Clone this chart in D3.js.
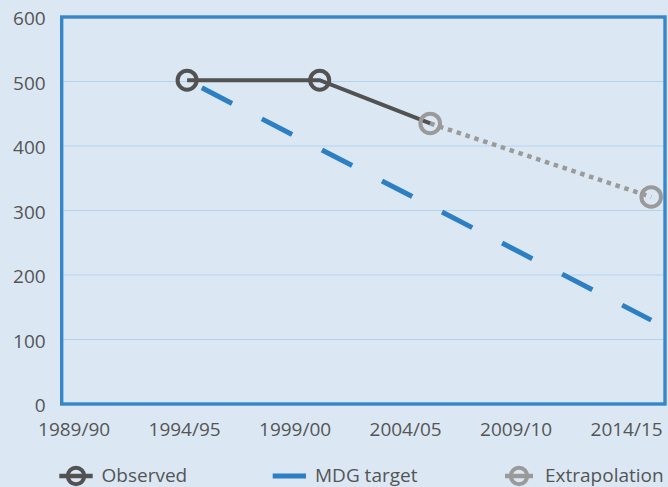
<!DOCTYPE html>
<html>
<head>
<meta charset="utf-8">
<script src="https://cdn.jsdelivr.net/npm/d3@7"></script>
<style>
  html, body { margin: 0; padding: 0; background: #dbe8f4; }
  svg { display: block; }
  text { font-family: "Open Sans", "Noto Sans", sans-serif; fill: #555; }
</style>
</head>
<body>
<svg id="chart" width="668" height="487"></svg>
<script>
// ---- data ----
const tickYears = [1990, 1995, 2000, 2005, 2010, 2015];
const tickLabels = ["1989/90", "1994/95", "1999/00", "2004/05", "2009/10", "2014/15"];
const yTicks = [0, 100, 200, 300, 400, 500, 600];

const observedYears = [1995, 2001, 2006];
const observedValues = [502, 502, 435];

const extrapYears = [2006, 2016];
const extrapValues = [435, 321];

const mdgYears = [1995, 2016];
const mdgValues = [502, 130];

const legendLabels = ["Observed", "MDG target", "Extrapolation"];

// ---- layout ----
const W = 668, H = 487;
const plotL = 61.7, plotR = 665, plotT = 17, plotB = 404;

const svg = d3.select("#chart");
svg.append("rect").attr("width", W).attr("height", H).attr("fill", "#dbe8f4");

const x = d3.scaleLinear().domain([1990, 2016]).range([76.6, 651.2]);
const y = d3.scaleLinear().domain([0, 600]).range([plotB, plotT]);

// grid
svg.append("g").selectAll("line")
  .data(yTicks.filter(v => v > 0 && v < 600))
  .join("line")
  .attr("x1", plotL + 1.5).attr("x2", plotR - 1.5)
  .attr("y1", d => y(d)).attr("y2", d => y(d))
  .attr("stroke", "#b3d2ee").attr("stroke-width", 1.2);

// y axis labels
const yAxis = d3.axisLeft(y).tickValues(yTicks).tickSize(0).tickPadding(16);
const gy = svg.append("g").attr("transform", `translate(${plotL},0)`).call(yAxis);
gy.select(".domain").remove();
gy.selectAll("text")
  .attr("font-size", "19px")
  .attr("font-family", "'Open Sans', sans-serif")
  .attr("fill", "#555")
  .attr("dy", "0.42em");

// x axis labels
const xAxis = d3.axisBottom(x).tickValues(tickYears)
  .tickFormat((d, i) => tickLabels[i]).tickSize(0).tickPadding(19);
const gx = svg.append("g").attr("transform", `translate(0,${plotB})`).call(xAxis);
gx.select(".domain").remove();
gx.selectAll("text")
  .attr("font-size", "19px")
  .attr("font-family", "'Open Sans', sans-serif")
  .attr("fill", "#555")
  .attr("dx", "-3");

// frame
svg.append("rect")
  .attr("x", plotL).attr("y", plotT)
  .attr("width", plotR - plotL).attr("height", plotB - plotT)
  .attr("fill", "none").attr("stroke", "#3787c8").attr("stroke-width", 3.4);

const line = d3.line().x(d => x(d[0])).y(d => y(d[1]));

// MDG target dashed
const mdgPts = mdgYears.map((d, i) => [d, mdgValues[i]]);
svg.append("path")
  .attr("d", line(mdgPts))
  .attr("fill", "none").attr("stroke", "#2b7fc2").attr("stroke-width", 5)
  .attr("stroke-dasharray", "34,33.6").attr("stroke-dashoffset", 51);

// extrapolation dotted
const exPts = extrapYears.map((d, i) => [d, extrapValues[i]]);
svg.append("path")
  .attr("d", line(exPts))
  .attr("fill", "none").attr("stroke", "#9a9a9a").attr("stroke-width", 4.5)
  .attr("stroke-dasharray", "4.5,4.8");

// observed solid
const obPts = observedYears.map((d, i) => [d, observedValues[i]]);
svg.append("path")
  .attr("d", line(obPts))
  .attr("fill", "none").attr("stroke", "#525252").attr("stroke-width", 4);

// markers
svg.append("g").selectAll("circle")
  .data(obPts.slice(0, 2))
  .join("circle")
  .attr("cx", d => x(d[0])).attr("cy", d => y(d[1])).attr("r", 9.5)
  .attr("fill", "none").attr("stroke", "#525252").attr("stroke-width", 4);

svg.append("g").selectAll("circle")
  .data(exPts)
  .join("circle")
  .attr("cx", d => x(d[0])).attr("cy", d => y(d[1])).attr("r", 9.8)
  .attr("fill", "none").attr("stroke", "#9a9a9a").attr("stroke-width", 4);

// legend
const ly = 476;
const ty = 481.5;
const lg = svg.append("g");
// Observed
lg.append("line").attr("x1", 59.3).attr("x2", 92.7).attr("y1", ly).attr("y2", ly)
  .attr("stroke", "#525252").attr("stroke-width", 4.5);
lg.append("circle").attr("cx", 76).attr("cy", ly).attr("r", 8.2)
  .attr("fill", "none").attr("stroke", "#525252").attr("stroke-width", 4);
lg.append("text").attr("x", 101.5).attr("y", ty).attr("font-size", "19px").text(legendLabels[0]);
// MDG
lg.append("line").attr("x1", 272.7).attr("x2", 306).attr("y1", ly).attr("y2", ly)
  .attr("stroke", "#2b7fc2").attr("stroke-width", 5);
lg.append("text").attr("x", 315).attr("y", ty).attr("font-size", "19px").text(legendLabels[1]);
// Extrapolation
lg.append("line").attr("x1", 505).attr("x2", 533).attr("y1", ly).attr("y2", ly)
  .attr("stroke", "#9a9a9a").attr("stroke-width", 4.5);
lg.append("circle").attr("cx", 519).attr("cy", ly).attr("r", 8.2)
  .attr("fill", "none").attr("stroke", "#9a9a9a").attr("stroke-width", 4);
lg.append("text").attr("x", 545).attr("y", ty).attr("font-size", "19px").text(legendLabels[2]);
</script>
</body>
</html>
